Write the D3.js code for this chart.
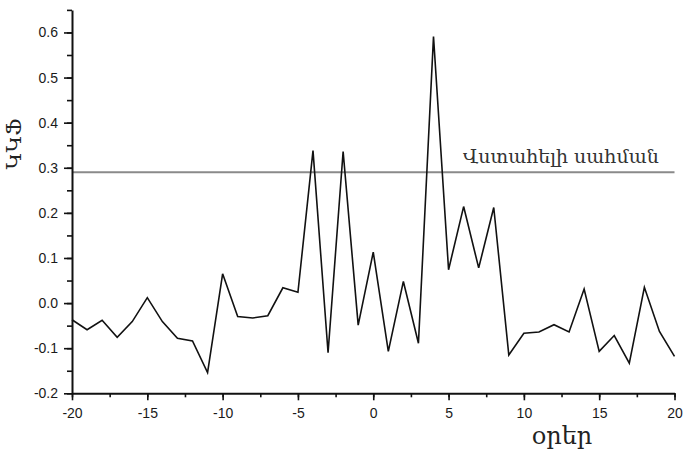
<!DOCTYPE html>
<html>
<head>
<meta charset="utf-8">
<script src="https://cdn.jsdelivr.net/npm/d3@7"></script>
<style>
  body { margin: 0; background: #fff; }
  .tick text { font-family: "Liberation Sans", Arial, sans-serif; font-size: 14px; fill: #1a1a1a; }
</style>
</head>
<body>
<svg id="chart" width="689" height="451"></svg>
<script>
// days relative to the event
const days = d3.range(-20, 21);
const values = [
    -0.037, -0.059, -0.038, -0.076, -0.041, 0.012, -0.041, -0.078, -0.084, -0.154,
    0.065, -0.030, -0.033, -0.028, 0.034, 0.024, 0.338, -0.110, 0.336, -0.049,
    0.113, -0.107, 0.048, -0.089, 0.591, 0.074, 0.214, 0.078, 0.212, -0.115,
    -0.067, -0.064, -0.048, -0.064, 0.031, -0.107, -0.072, -0.133, 0.035, -0.063,
    -0.118
];
const threshold = 0.29;
const xTicks = [-20, -15, -10, -5, 0, 5, 10, 15, 20];
const xMinor = d3.range(-20, 20.1, 2.5);
const yTicks = [-0.2, -0.1, 0.0, 0.1, 0.2, 0.3, 0.4, 0.5, 0.6];
const yMinor = d3.range(-0.2, 0.66, 0.05);
const yLabel = 'ԿԿՖ';
const xLabel = 'օրեր';
const thresholdLabel = 'Վստահելի սահման';

const svg = d3.select('#chart');
svg.append('rect').attr('width', 689).attr('height', 451).attr('fill', '#fff');

const x = d3.scaleLinear().domain([-20, 20]).range([72, 674.5]);
const y = d3.scaleLinear().domain([-0.2, 0.65]).range([393.3, 9.9]);

const rows = days.map((d, i) => ({ day: d, v: values[i] }));

// threshold line
svg.append('line')
    .attr('x1', x(-20)).attr('x2', x(20))
    .attr('y1', y(threshold)).attr('y2', y(threshold))
    .attr('stroke', '#8a8a8a')
    .attr('stroke-width', 2);

svg.append('text')
    .attr('x', 463).attr('y', y(threshold) - 9)
    .attr('font-family', '"DejaVu Serif", serif')
    .attr('font-size', 19)
    .attr('fill', '#333')
    .text(thresholdLabel);

// the series
const line = d3.line().x(d => x(d.day)).y(d => y(d.v));
svg.append('path')
    .datum(rows)
    .attr('fill', 'none')
    .attr('stroke', '#111')
    .attr('stroke-width', 1.6)
    .attr('stroke-linejoin', 'miter')
    .attr('d', line);

// minor ticks
svg.append('g')
    .attr('transform', `translate(0,${y(-0.2)})`)
    .call(d3.axisBottom(x).tickValues(xMinor).tickSize(4).tickFormat(''))
    .call(g => g.select('.domain').remove());
svg.append('g')
    .attr('transform', `translate(${x(-20)},0)`)
    .call(d3.axisLeft(y).tickValues(yMinor).tickSize(5).tickFormat(''))
    .call(g => g.select('.domain').remove());

// major axes
svg.append('g')
    .attr('transform', `translate(0,${y(-0.2)})`)
    .call(d3.axisBottom(x).tickValues(xTicks).tickSize(7).tickSizeOuter(0).tickPadding(8).tickFormat(d3.format('d')));
svg.append('g')
    .attr('transform', `translate(${x(-20)},0)`)
    .call(d3.axisLeft(y).tickValues(yTicks).tickSize(8).tickSizeOuter(0).tickPadding(6).tickFormat(d3.format('.1f')));

svg.selectAll('.tick line').attr('stroke', '#111').attr('stroke-width', 1.6);
svg.selectAll('.domain').attr('stroke', '#111').attr('stroke-width', 2);
// hyphen instead of unicode minus, as in the original
svg.selectAll('.tick text').text(function () { return d3.select(this).text().replace('−', '-'); });

// axis titles
svg.append('text')
    .attr('x', 562).attr('y', 444)
    .attr('text-anchor', 'middle')
    .attr('font-family', '"DejaVu Serif", serif')
    .attr('font-size', 24)
    .attr('fill', '#222')
    .text(xLabel);

svg.append('text')
    .attr('transform', 'translate(21,144) rotate(-90)')
    .attr('text-anchor', 'middle')
    .attr('font-family', '"DejaVu Serif", serif')
    .attr('font-size', 21)
    .attr('fill', '#222')
    .text(yLabel);
</script>
</body>
</html>
